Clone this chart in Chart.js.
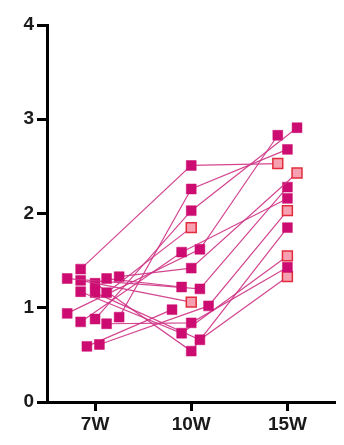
<!DOCTYPE html>
<html>
<head>
<meta charset="utf-8">
<script src="https://cdn.jsdelivr.net/npm/chart.js@4/dist/chart.umd.min.js"></script>
<style>
  html, body { margin: 0; padding: 0; background: #fff; }
  #wrap { width: 344px; height: 445px; }
</style>
</head>
<body>
<div id="wrap"><canvas id="c" width="344" height="445"></canvas></div>
<script>
// Categories (time points)
const categories = ['7W', '10W', '15W'];
const yTicks = [0, 1, 2, 3, 4];

// Values per subject at each time point (null = no measurement)
const values7  = [1.41, 0.90, 0.88, 1.16, 0.85, 0.94, 1.33, 1.31, 1.31, 1.29, 0.61, 0.59, 0.83, 1.17, 1.16, 1.26];
const values10 = [2.51, 2.26, 2.03, 1.85, 1.59, 1.62, 1.42, 1.22, 1.20, 1.06, 1.02, 0.98, 0.84, 0.73, 0.66, 0.54];
const values15 = [2.53, 2.68, 2.91, null, 2.16, 2.83, 2.43, null, 2.28, null, 2.03, null, 1.43, 1.55, 1.33, 1.85];

// Horizontal scatter of each point around its category (in category units)
const spread7  = [-0.15, 0.25, 0, 0.12, -0.15, -0.29, 0.25, 0.12, -0.29, -0.15, 0.045, -0.085, 0.12, -0.15, 0, 0];
const spread10 = [0, 0, 0, 0, -0.1, 0.09, 0, -0.1, 0.09, 0, 0.18, -0.2, 0, -0.1, 0.09, 0];
const spread15 = [-0.1, 0, 0.1, 0, 0, -0.1, 0.1, 0, 0, 0, 0, 0, 0, 0, 0, 0];

// Highlighted (open pink) points
const flagged10 = [false, false, false, true, false, false, false, false, false, true, false, false, false, false, false, false];
const flagged15 = [true, false, false, false, false, false, true, false, false, false, true, false, false, true, true, false];

const MAIN = 'rgb(204,12,112)';
const LINE = 'rgba(206,50,132,0.9)';
const PINK_FILL = 'rgb(246,160,178)';
const PINK_EDGE = 'rgb(226,44,60)';

const datasets = values7.map((v7, i) => {
  const pts = [{ x: 0 + spread7[i], y: v7 }, { x: 1 + spread10[i], y: values10[i] }];
  const flags = [false, flagged10[i]];
  if (values15[i] !== null) {
    pts.push({ x: 2 + spread15[i], y: values15[i] });
    flags.push(flagged15[i]);
  }
  return {
    data: pts,
    showLine: true,
    borderColor: LINE,
    borderWidth: 1.2,
    pointStyle: 'rect',
    pointRadius: 7,
    pointHoverRadius: 7,
    pointBackgroundColor: flags.map(f => f ? PINK_FILL : MAIN),
    pointBorderColor: flags.map(f => f ? PINK_EDGE : MAIN),
    pointBorderWidth: flags.map(f => f ? 1.5 : 0.5),
  };
});

const axisFont = { family: 'Liberation Sans, Arial, sans-serif', size: 19, weight: 'bold' };

new Chart(document.getElementById('c'), {
  type: 'scatter',
  data: { datasets },
  options: {
    responsive: false,
    animation: false,
    devicePixelRatio: 1,
    layout: { padding: { left: 0, right: 6, top: 25, bottom: 0 } },
    plugins: { legend: { display: false }, tooltip: { enabled: false } },
    scales: {
      x: {
        type: 'linear',
        min: -0.5,
        max: 2.5,
        afterBuildTicks: s => { s.ticks = categories.map((c, i) => ({ value: i })); },
        afterFit: s => { s.height = 43; },
        ticks: {
          callback: (v) => categories[v] ?? '',
          color: '#1a1a1a',
          font: axisFont,
          padding: 2,
          maxRotation: 0,
        },
        grid: { drawOnChartArea: false, drawTicks: true, tickLength: 9, tickWidth: 3, color: '#000' },
        border: { display: true, width: 3, color: '#000' },
      },
      y: {
        min: 0,
        max: 4,
        afterBuildTicks: s => { s.ticks = yTicks.map(v => ({ value: v })); },
        afterFit: s => { s.width = 47; },
        ticks: {
          color: '#1a1a1a',
          font: axisFont,
          padding: 3,
        },
        grid: { drawOnChartArea: false, drawTicks: true, tickLength: 10, tickWidth: 3, color: '#000' },
        border: { display: true, width: 3, color: '#000' },
      }
    }
  }
});
</script>
</body>
</html>
